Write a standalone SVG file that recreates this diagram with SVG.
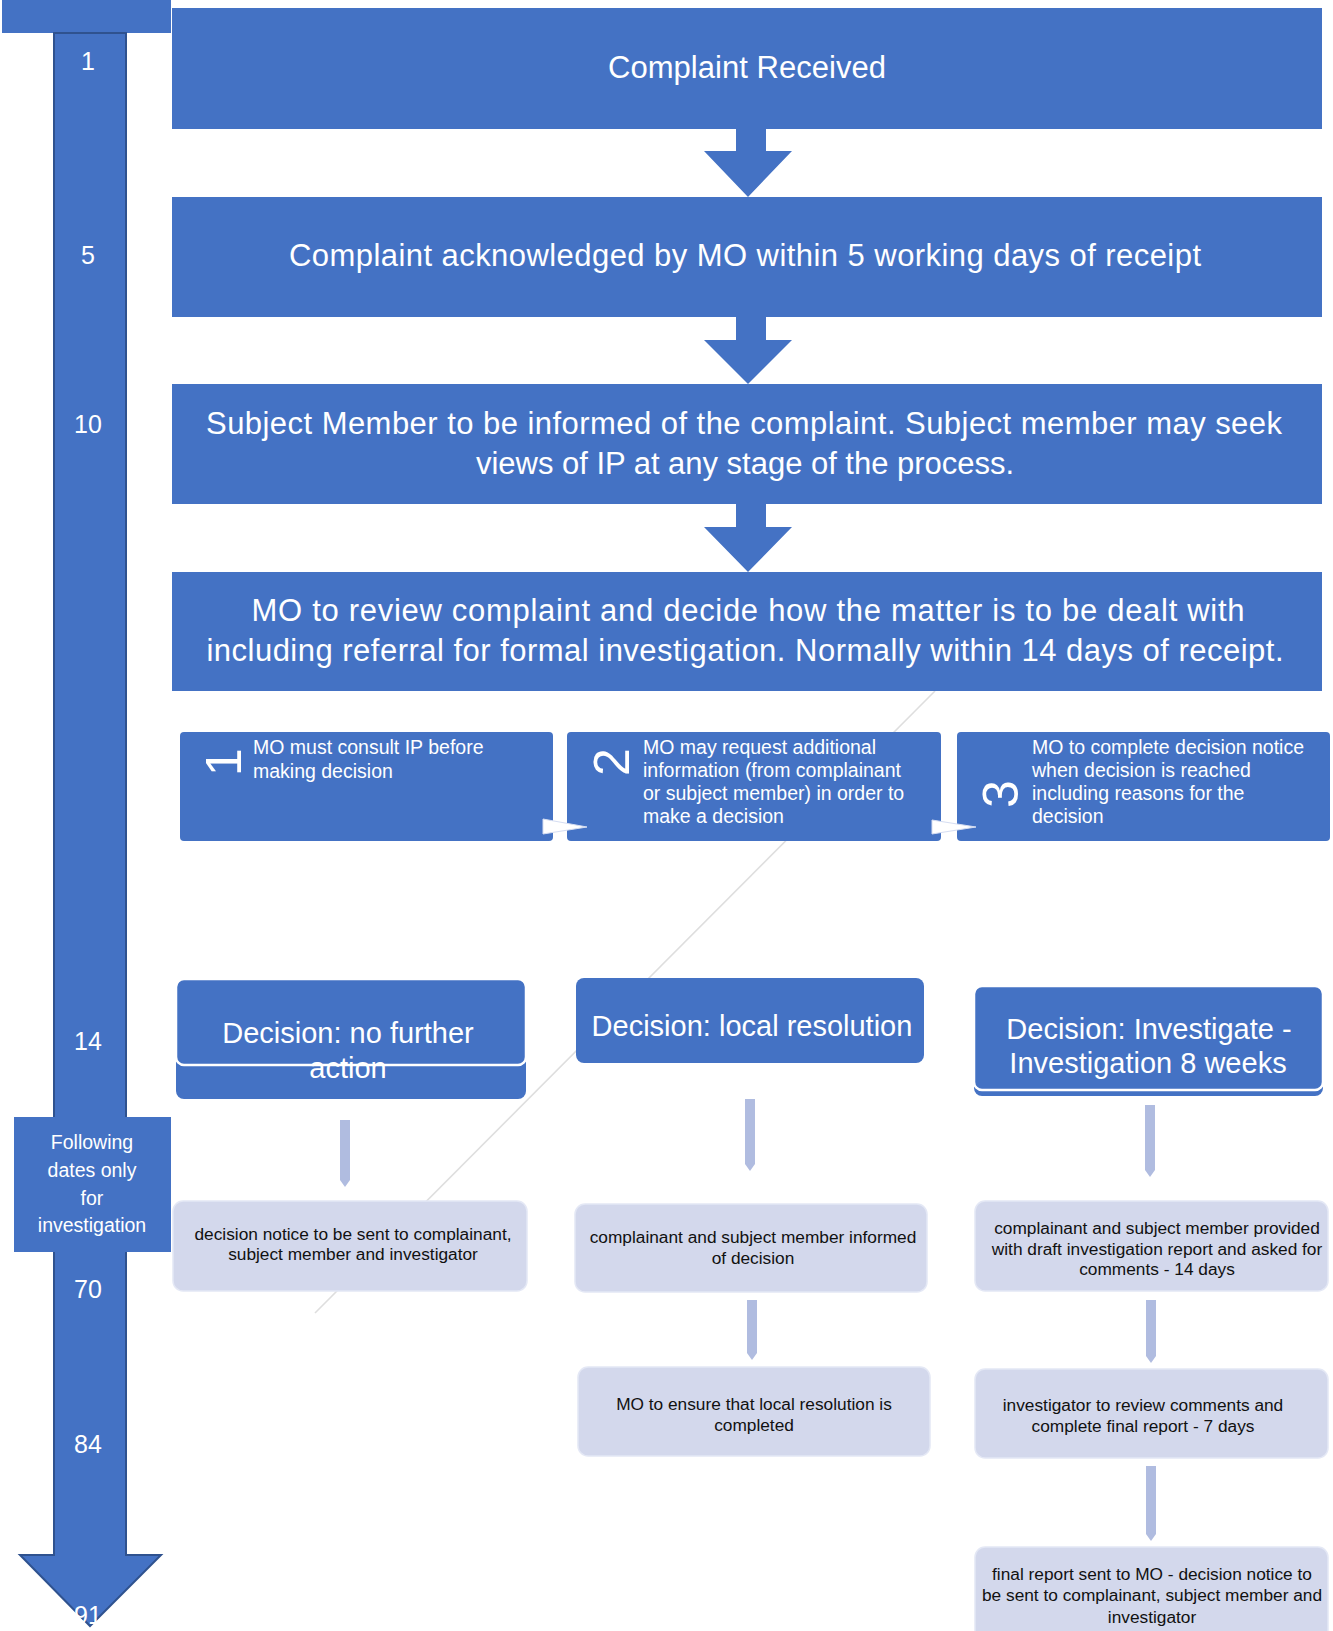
<svg xmlns="http://www.w3.org/2000/svg" width="1333" height="1631" viewBox="0 0 1333 1631">
<style>
.blue{fill:#4472C4}
.big{font-family:"Liberation Sans",Arial,sans-serif;font-size:31px;fill:#fff;text-anchor:middle}
.num{font-family:"Liberation Sans",Arial,sans-serif;font-size:25px;fill:#fff;text-anchor:middle}
.side{font-family:"Liberation Sans",Arial,sans-serif;font-size:19.5px;fill:#fff;text-anchor:middle}
.sm{font-family:"Liberation Sans",Arial,sans-serif;font-size:19.5px;fill:#fff}
.digit{font-family:"Liberation Sans",Arial,sans-serif;font-size:50px;fill:#fff;text-anchor:middle}
.dec{font-family:"Liberation Sans",Arial,sans-serif;font-size:29px;fill:#fff;text-anchor:middle}
.lav{fill:#D3D8EC;stroke:#E4E8F5;stroke-width:1.5}
.lt{font-family:"Liberation Sans",Arial,sans-serif;font-size:17.3px;fill:#111;text-anchor:middle}
.larr{fill:#B0BCE0}
.warr{fill:#fff;stroke:#D5DDF2;stroke-width:1}
</style>
<rect width="1333" height="1631" fill="#fff"/>

<g id="background-line">
  <line x1="935" y1="691" x2="315" y2="1313" stroke="#DEDEDE" stroke-width="1.6"/>
</g>

<g id="timeline">
  <rect class="blue" x="2" y="0" width="169" height="33"/>
  <polygon class="blue" points="54,33 126,33 126,1555 161,1555 90,1626 20,1555 54,1555" stroke="#2F528F" stroke-width="2"/>
  <text class="num" x="88" y="70">1</text>
  <text class="num" x="88" y="264">5</text>
  <text class="num" x="88" y="433">10</text>
  <text class="num" x="88" y="1050">14</text>
  <text class="num" x="88" y="1298">70</text>
  <text class="num" x="88" y="1453">84</text>
  <text class="num" x="88" y="1624">91</text>
</g>

<g id="following-note">
  <rect class="blue" x="14" y="1117" width="157" height="135"/>
  <text class="side" x="92" y="1149">Following</text>
  <text class="side" x="92" y="1177">dates only</text>
  <text class="side" x="92" y="1205">for</text>
  <text class="side" x="92" y="1232">investigation</text>
</g>

<g id="complaint-received">
  <rect class="blue" x="172" y="8" width="1150" height="121"/>
  <text class="big" x="747" y="78" textLength="278">Complaint Received</text>
</g>

<g id="acknowledged">
  <rect class="blue" x="172" y="197" width="1150" height="120"/>
  <text class="big" x="745" y="266" textLength="912">Complaint acknowledged by MO within 5 working days of receipt</text>
</g>

<g id="subject-informed">
  <rect class="blue" x="172" y="384" width="1150" height="120"/>
  <text class="big" x="744" y="434" textLength="1076">Subject Member to be informed of the complaint. Subject member may seek</text>
  <text class="big" x="745" y="474" textLength="538">views of IP at any stage of the process.</text>
</g>

<g id="mo-review">
  <rect class="blue" x="172" y="572" width="1150" height="119"/>
  <text class="big" x="748" y="621" textLength="993">MO to review complaint and decide how the matter is to be dealt with</text>
  <text class="big" x="745" y="661" textLength="1077">including referral for formal investigation. Normally within 14 days of receipt.</text>
</g>

<g id="step-1">
  <rect class="blue" x="180" y="732" width="373" height="109" rx="4"/>
  <text class="digit" transform="translate(241,762) rotate(-90)">1</text>
  <text class="sm" x="253" y="754">MO must consult IP before</text>
  <text class="sm" x="253" y="778">making decision</text>
</g>

<g id="step-2">
  <rect class="blue" x="567" y="732" width="374" height="109" rx="4"/>
  <text class="digit" transform="translate(629,762) rotate(-90)">2</text>
  <text class="sm" x="643" y="754">MO may request additional</text>
  <text class="sm" x="643" y="777">information (from complainant</text>
  <text class="sm" x="643" y="800">or subject member) in order to</text>
  <text class="sm" x="643" y="823">make a decision</text>
</g>

<g id="step-3">
  <rect class="blue" x="957" y="732" width="373" height="109" rx="4"/>
  <text class="digit" transform="translate(1018,794) rotate(-90)">3</text>
  <text class="sm" x="1032" y="754">MO to complete decision notice</text>
  <text class="sm" x="1032" y="777">when decision is reached</text>
  <text class="sm" x="1032" y="800">including reasons for the</text>
  <text class="sm" x="1032" y="823">decision</text>
</g>

<g id="decision-nfa">
  <rect class="blue" x="176" y="1040" width="350" height="59" rx="8"/>
  <rect class="blue" x="176" y="979" width="350" height="86" rx="8" stroke="#fff" stroke-width="2.5"/>
  <text class="dec" x="348" y="1043">Decision: no further</text>
  <text class="dec" x="348" y="1078">action</text>
</g>

<g id="decision-local">
  <rect class="blue" x="576" y="978" width="348" height="85" rx="8"/>
  <text class="dec" x="752" y="1036">Decision: local resolution</text>
</g>

<g id="decision-investigate">
  <rect class="blue" x="974" y="1000" width="349" height="96" rx="8"/>
  <rect class="blue" x="974" y="986" width="349" height="104" rx="8" stroke="#fff" stroke-width="2.5"/>
  <text class="dec" x="1149" y="1039">Decision: Investigate -</text>
  <text class="dec" x="1148" y="1073">Investigation 8 weeks</text>
</g>

<g id="nfa-notice">
  <rect class="lav" x="173" y="1201" width="354" height="90" rx="10"/>
  <text class="lt" x="353" y="1240">decision notice to be sent to complainant,</text>
  <text class="lt" x="353" y="1260">subject member and investigator</text>
</g>

<g id="local-informed">
  <rect class="lav" x="575" y="1204" width="352" height="88" rx="10"/>
  <text class="lt" x="753" y="1243">complainant and subject member informed</text>
  <text class="lt" x="753" y="1264">of decision</text>
</g>

<g id="local-complete">
  <rect class="lav" x="578" y="1367" width="352" height="89" rx="10"/>
  <text class="lt" x="754" y="1410">MO to ensure that local resolution is</text>
  <text class="lt" x="754" y="1431">completed</text>
</g>

<g id="inv-draft">
  <rect class="lav" x="975" y="1201" width="353" height="90" rx="10"/>
  <text class="lt" x="1157" y="1234">complainant and subject member provided</text>
  <text class="lt" x="1157" y="1254.5">with draft investigation report and asked for</text>
  <text class="lt" x="1157" y="1275">comments - 14 days</text>
</g>

<g id="inv-review">
  <rect class="lav" x="975" y="1369" width="353" height="89" rx="10"/>
  <text class="lt" x="1143" y="1411">investigator to review comments and</text>
  <text class="lt" x="1143" y="1432">complete final report - 7 days</text>
</g>

<g id="inv-final">
  <rect class="lav" x="975" y="1547" width="353" height="100" rx="10"/>
  <text class="lt" x="1152" y="1580">final report sent to MO - decision notice to</text>
  <text class="lt" x="1152" y="1601">be sent to complainant, subject member and</text>
  <text class="lt" x="1152" y="1623">investigator</text>
</g>

<g id="connectors">
  <polygon class="blue" points="736,129 766,129 766,151 792,151 748,197 704,151 736,151"/>
  <polygon class="blue" points="736,317 766,317 766,340 792,340 748,384 704,340 736,340"/>
  <polygon class="blue" points="736,504 766,504 766,527 792,527 748,572 704,527 736,527"/>
  <polygon class="warr" points="543,819 543,834 587,827"/>
  <polygon class="warr" points="932,820 932,834 976,827"/>
  <polygon class="larr" points="340,1120 350,1120 350,1180 345,1187 340,1180"/>
  <polygon class="larr" points="745,1099 755,1099 755,1164 750,1171 745,1164"/>
  <polygon class="larr" points="1145,1105 1155,1105 1155,1170 1150,1177 1145,1170"/>
  <polygon class="larr" points="747,1300 757,1300 757,1353 752,1360 747,1353"/>
  <polygon class="larr" points="1146,1300 1156,1300 1156,1356 1151,1363 1146,1356"/>
  <polygon class="larr" points="1146,1466 1156,1466 1156,1534 1151,1541 1146,1534"/>
</g>
</svg>
